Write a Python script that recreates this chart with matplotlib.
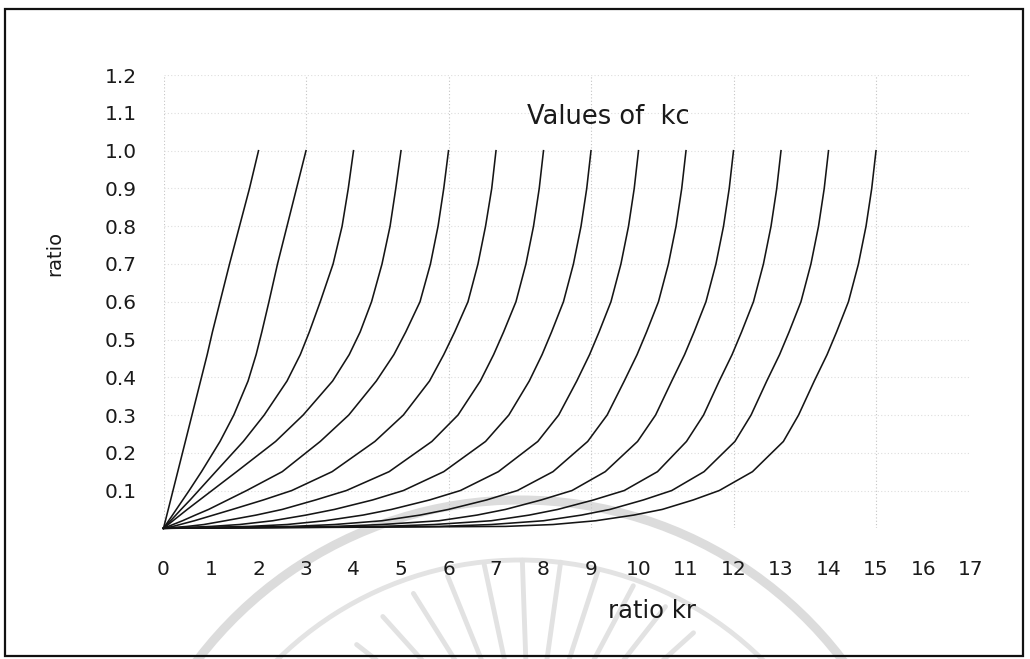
import numpy as np
import matplotlib
matplotlib.use("Agg")
import matplotlib.pyplot as plt
from matplotlib.patches import Rectangle, Arc

plt.rcParams['font.family'] = ['DejaVu Sans']

# ratio levels (y) at which each curve's kr (x) position was read
ratio_levels = [0.0, 0.005, 0.01, 0.02, 0.035, 0.05, 0.075, 0.10, 0.15, 0.23,
                0.30, 0.39, 0.46, 0.52, 0.60, 0.70, 0.80, 0.90, 1.00]

# kr positions of each "Values of kc" curve at the ratio levels above
kc_values = [2, 3, 4, 5, 6, 7, 8, 9, 10, 11, 12, 13, 14, 15]
kr_kc2 = [0, 0.01, 0.02, 0.04, 0.07, 0.10, 0.15, 0.20, 0.30, 0.46, 0.60, 0.78, 0.92, 1.03, 1.19, 1.39, 1.60, 1.81, 2.0]
kr_kc3 = [0, 0.027, 0.054, 0.108, 0.19, 0.27, 0.405, 0.54, 0.80, 1.19, 1.48, 1.78, 1.95, 2.07, 2.22, 2.40, 2.60, 2.80, 3.0]
kr_kc4 = [0, 0.037, 0.074, 0.15, 0.26, 0.37, 0.56, 0.74, 1.10, 1.68, 2.12, 2.60, 2.88, 3.07, 3.30, 3.57, 3.76, 3.89, 4.0]
kr_kc5 = [0, 0.05, 0.10, 0.20, 0.35, 0.50, 0.76, 1.02, 1.54, 2.36, 2.94, 3.56, 3.91, 4.14, 4.38, 4.60, 4.77, 4.89, 5.0]
kr_kc6 = [0, 0.10, 0.20, 0.40, 0.67, 0.95, 1.35, 1.75, 2.50, 3.30, 3.90, 4.48, 4.85, 5.10, 5.40, 5.62, 5.78, 5.90, 6.0]
kr_kc7 = [0, 0.20, 0.35, 0.65, 1.05, 1.45, 2.10, 2.70, 3.55, 4.45, 5.05, 5.60, 5.90, 6.13, 6.41, 6.62, 6.78, 6.91, 7.0]
kr_kc8 = [0, 0.50, 0.85, 1.30, 1.95, 2.50, 3.20, 3.85, 4.75, 5.65, 6.20, 6.67, 6.95, 7.16, 7.42, 7.63, 7.79, 7.91, 8.0]
kr_kc9 = [0, 1.0, 1.6, 2.3, 3.0, 3.6, 4.4, 5.05, 5.9, 6.78, 7.27, 7.7, 7.97, 8.17, 8.42, 8.63, 8.79, 8.91, 9.0]
kr_kc10 = [0, 1.8, 2.6, 3.4, 4.2, 4.8, 5.6, 6.25, 7.05, 7.88, 8.32, 8.7, 8.97, 9.17, 9.42, 9.63, 9.79, 9.91, 10.0]
kr_kc11 = [0, 2.7, 3.6, 4.6, 5.4, 6.0, 6.8, 7.45, 8.2, 8.93, 9.34, 9.7, 9.97, 10.17, 10.42, 10.63, 10.79, 10.91, 11.0]
kr_kc12 = [0, 3.6, 4.6, 5.8, 6.6, 7.2, 7.95, 8.6, 9.3, 9.98, 10.36, 10.7, 10.97, 11.17, 11.42, 11.63, 11.79, 11.91, 12.0]
kr_kc13 = [0, 4.6, 5.7, 6.9, 7.7, 8.3, 9.05, 9.7, 10.4, 11.01, 11.37, 11.7, 11.97, 12.17, 12.42, 12.63, 12.79, 12.91, 13.0]
kr_kc14 = [0, 5.8, 6.9, 8.0, 8.8, 9.4, 10.1, 10.7, 11.38, 12.03, 12.37, 12.7, 12.97, 13.17, 13.42, 13.63, 13.79, 13.91, 14.0]
kr_kc15 = [0, 7.2, 8.2, 9.1, 9.9, 10.5, 11.15, 11.7, 12.4, 13.05, 13.37, 13.7, 13.97, 14.17, 14.42, 14.63, 14.79, 14.91, 15.0]

curves = [kr_kc2, kr_kc3, kr_kc4, kr_kc5, kr_kc6, kr_kc7, kr_kc8,
          kr_kc9, kr_kc10, kr_kc11, kr_kc12, kr_kc13, kr_kc14, kr_kc15]

x_ticks = list(range(0, 18))
x_tick_labels = [str(v) for v in x_ticks]
y_ticks = [0.1, 0.2, 0.3, 0.4, 0.5, 0.6, 0.7, 0.8, 0.9, 1.0, 1.1, 1.2]
y_tick_labels = ["0.1", "0.2", "0.3", "0.4", "0.5", "0.6", "0.7", "0.8", "0.9", "1.0", "1.1", "1.2"]
x_grid = [0, 3, 6, 9, 12, 15]

W, H = 1030, 659
fig = plt.figure(figsize=(W / 100, H / 100), dpi=100)
fig.patch.set_facecolor("white")

# background overlay (pixel coordinates) for the faint scanned watermark
bg = fig.add_axes([0, 0, 1, 1], zorder=0)
bg.set_xlim(0, W)
bg.set_ylim(H, 0)
bg.axis("off")
wm = "#dcdcdc"
bg.add_patch(Arc((520, 905), 810, 810, theta1=200, theta2=340, color=wm, lw=6.5))
bg.add_patch(Arc((520, 905), 690, 690, theta1=205, theta2=335, color="#e3e3e3", lw=3.5))
cx, cy = 530, 780
for ang in np.arange(32, 152, 10):
    a = np.deg2rad(ang)
    bg.plot([cx + 115 * np.cos(a), cx + 220 * np.cos(a)],
            [cy - 115 * np.sin(a), cy - 220 * np.sin(a)],
            color="#e2e2e2", lw=3.5, solid_capstyle="round")

# main axes
ax = fig.add_axes([163.5 / W, (H - 528.3) / H, 807.5 / W, 453.1 / H], zorder=1)
ax.set_facecolor("none")
ax.set_xlim(0, 17)
ax.set_ylim(0, 1.2)
for s in ax.spines.values():
    s.set_visible(False)

for gx in x_grid:
    ax.plot([gx, gx], [0, 1.2], color="#c4c4c4", lw=0.8, ls=(0, (1, 2)), zorder=1)
for gy in y_ticks:
    ax.plot([0, 17], [gy, gy], color="#dedede", lw=0.8, ls=(0, (1, 2)), zorder=1)

for xs in curves:
    ax.plot(xs, ratio_levels, color="#151515", lw=1.15, zorder=3, clip_on=False,
            solid_joinstyle="round")

ax.set_xticks(x_ticks)
ax.set_xticklabels(x_tick_labels)
ax.set_yticks(y_ticks)
ax.set_yticklabels(y_tick_labels)
ax.tick_params(axis="x", length=0, pad=23, labelsize=14.5, colors="#1a1a1a")
ax.tick_params(axis="y", length=0, pad=19, labelsize=14.5, colors="#1a1a1a")

ax.text(7.65, 1.089, "Values of  kc", fontsize=18.5, ha="left", va="center", color="#1a1a1a")
fig.text(55 / W, 1 - 253 / H, "ratio", rotation=90, fontsize=14, ha="center", va="center", color="#1a1a1a")
fig.text(652 / W, 1 - 611 / H, "ratio kr", fontsize=17.5, ha="center", va="center", color="#1a1a1a")

fig.patches.append(Rectangle((5 / W, 1 - 656 / H), 1018 / W, 647 / H, transform=fig.transFigure,
                             fill=False, edgecolor="#111111", lw=1.6, zorder=5))

fig.savefig("out.png", dpi=100)
